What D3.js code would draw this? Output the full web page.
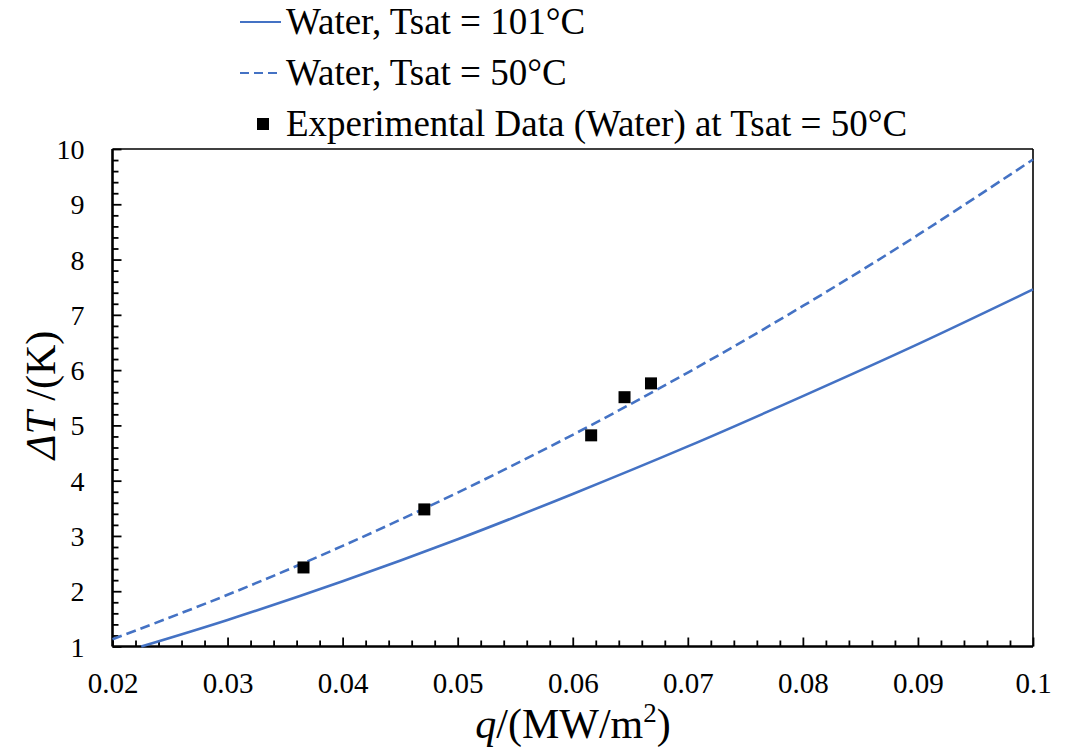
<!DOCTYPE html>
<html>
<head>
<meta charset="utf-8">
<script src="https://cdn.jsdelivr.net/npm/d3@7"></script>
<style>
  html, body { margin: 0; padding: 0; background: #fff; }
  svg { display: block; }
  text { font-family: "Liberation Serif", "Times New Roman", serif; fill: #000; }
</style>
</head>
<body>
<svg id="chart" width="1071" height="748"></svg>
<script>
// ---- data ----
const qSolid = [0.0225, 0.03, 0.04, 0.05, 0.06, 0.07, 0.08, 0.09, 0.10];
const dtSolid = [1.00, 1.48, 2.18, 2.94, 3.76, 4.62, 5.53, 6.47, 7.46];
const qDash = [0.02, 0.03, 0.04, 0.05, 0.06, 0.07, 0.08, 0.09, 0.10];
const dtDash = [1.13, 1.935, 2.82, 3.785, 4.83, 5.955, 7.16, 8.445, 9.81];
const qExp = [0.0366, 0.0471, 0.0616, 0.0645, 0.0668];
const dtExp = [2.43, 3.48, 4.82, 5.51, 5.76];
const xTicks = [0.02, 0.03, 0.04, 0.05, 0.06, 0.07, 0.08, 0.09, 0.1];
const yTicks = [1, 2, 3, 4, 5, 6, 7, 8, 9, 10];
const legendLabels = ["Water, Tsat = 101°C", "Water, Tsat = 50°C", "Experimental Data (Water) at Tsat = 50°C"];

const blue = "#4472C4";
const serif = '"Liberation Serif", "Times New Roman", serif';
const svg = d3.select("#chart");
const L = 112.5, R = 1033, T = 149, B = 646.5;

const x = d3.scaleLinear().domain([0.02, 0.1]).range([L, R]);
const y = d3.scaleLinear().domain([1, 10]).range([B, T]);

// minor ticks
const xMinor = d3.range(0.02, 0.1001, 0.002).filter(v => Math.abs(v * 100 - Math.round(v * 100)) > 1e-6);
const yMinor = d3.range(1, 10.001, 0.2).filter(v => Math.abs(v - Math.round(v)) > 1e-6);

// frame (top/right thin)
svg.append("line").attr("x1", L).attr("x2", R).attr("y1", T).attr("y2", T).attr("stroke", "#000").attr("stroke-width", 1.6);
svg.append("line").attr("x1", R).attr("x2", R).attr("y1", T).attr("y2", B).attr("stroke", "#000").attr("stroke-width", 1.6);

// axes
const gx = svg.append("g").attr("transform", `translate(0,${B})`);
gx.append("g").call(d3.axisBottom(x).tickValues(xMinor).tickSize(-6).tickFormat("")).call(g => g.select(".domain").remove());
gx.append("g").call(d3.axisBottom(x).tickValues(xTicks).tickSize(-9).tickPadding(0).tickFormat(d3.format("~g")))
  .call(g => g.select(".domain").remove());
gx.selectAll(".tick line").attr("stroke", "#000").attr("stroke-width", 1.8);
gx.selectAll(".tick text").attr("dy", 0).attr("y", 46).style("font-size", "29px").style("font-family", serif);

const gy = svg.append("g").attr("transform", `translate(${L},0)`);
gy.append("g").call(d3.axisLeft(y).tickValues(yMinor).tickSize(-6).tickFormat("")).call(g => g.select(".domain").remove());
gy.append("g").call(d3.axisLeft(y).tickValues(yTicks).tickSize(-9).tickFormat(d3.format("d")))
  .call(g => g.select(".domain").remove());
gy.selectAll(".tick line").attr("stroke", "#000").attr("stroke-width", 1.8);
gy.selectAll(".tick text").attr("x", -28).attr("dy", "0.34em").style("font-size", "28px").style("font-family", serif);

// thick left/bottom axis lines
svg.append("line").attr("x1", L).attr("x2", R).attr("y1", B).attr("y2", B).attr("stroke", "#000").attr("stroke-width", 2.6);
svg.append("line").attr("x1", L).attr("x2", L).attr("y1", T).attr("y2", B).attr("stroke", "#000").attr("stroke-width", 2.6);

// curves
const line = d3.line().x(d => x(d[0])).y(d => y(d[1])).curve(d3.curveCatmullRom);
svg.append("path").datum(qSolid.map((q, i) => [q, dtSolid[i]]))
  .attr("d", line).attr("fill", "none").attr("stroke", blue).attr("stroke-width", 2.6);
svg.append("path").datum(qDash.map((q, i) => [q, dtDash[i]]))
  .attr("d", line).attr("fill", "none").attr("stroke", blue).attr("stroke-width", 2.6)
  .attr("stroke-dasharray", "10,5");

// experimental points
const sq = 12;
svg.selectAll("rect.exp").data(qExp.map((q, i) => [q, dtExp[i]])).enter().append("rect")
  .attr("class", "exp")
  .attr("x", d => x(d[0]) - sq / 2).attr("y", d => y(d[1]) - sq / 2)
  .attr("width", sq).attr("height", sq).attr("fill", "#000");

// axis titles
const xt = svg.append("text").attr("x", 573).attr("y", 738).attr("text-anchor", "middle").style("font-size", "42px");
xt.append("tspan").style("font-style", "italic").text("q");
xt.append("tspan").text("/(MW/m");
xt.append("tspan").attr("dy", -16).style("font-size", "27px").text("2");
xt.append("tspan").attr("dy", 16).text(")");

const yt = svg.append("text").attr("transform", "translate(55,395) rotate(-90)").attr("text-anchor", "middle").style("font-size", "42px");
yt.append("tspan").style("font-style", "italic").text("ΔT");
yt.append("tspan").text(" /(K)");

// legend
const lg = svg.append("g");
const rows = [22, 73, 124];
lg.append("line").attr("x1", 240).attr("x2", 281).attr("y1", rows[0]).attr("y2", rows[0]).attr("stroke", blue).attr("stroke-width", 2.2);
lg.append("line").attr("x1", 240).attr("x2", 281).attr("y1", rows[1]).attr("y2", rows[1]).attr("stroke", blue).attr("stroke-width", 2.2).attr("stroke-dasharray", "9,5");
lg.append("rect").attr("x", 263 - 6).attr("y", rows[2] - 6).attr("width", 12).attr("height", 12).attr("fill", "#000");
legendLabels.forEach((t, i) => {
  lg.append("text").attr("x", 286).attr("y", rows[i] + 12).style("font-size", "37px").text(t);
});
</script>
</body>
</html>
